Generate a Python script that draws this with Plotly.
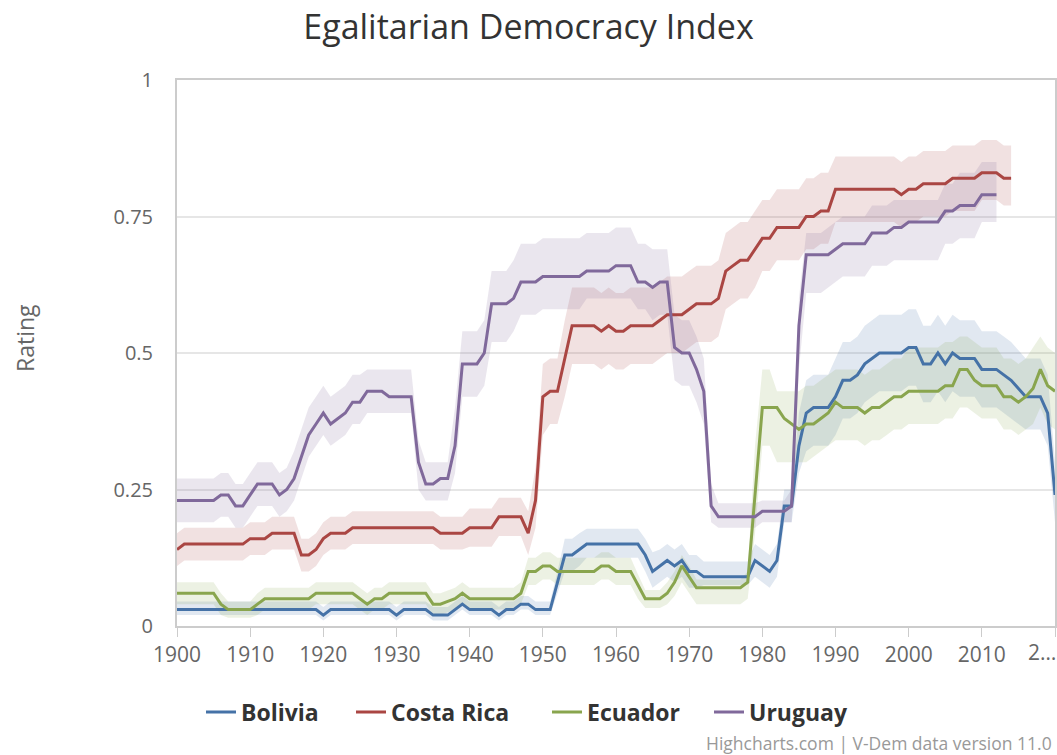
import plotly.graph_objects as go

TITLE = "Egalitarian Democracy Index"
Y_TITLE = "Rating"
CREDITS = "Highcharts.com | V-Dem data version 11.0"
SERIES_NAMES = ["Bolivia", "Costa Rica", "Ecuador", "Uruguay"]
X_TICK_VALUES = [1900, 1910, 1920, 1930, 1940, 1950, 1960, 1970, 1980, 1990, 2000, 2010, 2020]
X_TICK_LABELS = ["1900", "1910", "1920", "1930", "1940", "1950", "1960", "1970", "1980", "1990", "2000", "2010", "2…"]
Y_TICK_VALUES = [0, 0.25, 0.5, 0.75, 1]
Y_TICK_LABELS = ["0", "0.25", "0.5", "0.75", "1"]

YEARS = list(range(1900, 2021))

BOLIVIA = [
    0.03, 0.03, 0.03, 0.03, 0.03, 0.03, 0.03, 0.03, 0.03, 0.03,
    0.03, 0.03, 0.03, 0.03, 0.03, 0.03, 0.03, 0.03, 0.03, 0.03,
    0.02, 0.03, 0.03, 0.03, 0.03, 0.03, 0.03, 0.03, 0.03, 0.03,
    0.02, 0.03, 0.03, 0.03, 0.03, 0.02, 0.02, 0.02, 0.03, 0.04,
    0.03, 0.03, 0.03, 0.03, 0.02, 0.03, 0.03, 0.04, 0.04, 0.03,
    0.03, 0.03, 0.08, 0.13, 0.13, 0.14, 0.15, 0.15, 0.15, 0.15,
    0.15, 0.15, 0.15, 0.15, 0.13, 0.10, 0.11, 0.12, 0.11, 0.12,
    0.10, 0.10, 0.09, 0.09, 0.09, 0.09, 0.09, 0.09, 0.09, 0.12,
    0.11, 0.10, 0.12, 0.22, 0.22, 0.33, 0.39, 0.40, 0.40, 0.40,
    0.42, 0.45, 0.45, 0.46, 0.48, 0.49, 0.50, 0.50, 0.50, 0.50,
    0.51, 0.51, 0.48, 0.48, 0.50, 0.48, 0.50, 0.49, 0.49, 0.49,
    0.47, 0.47, 0.47, 0.46, 0.45, 0.435, 0.42, 0.42, 0.42, 0.39,
    0.24,
]
BOLIVIA_LOW = [
    0.02, 0.02, 0.02, 0.02, 0.02, 0.02, 0.02, 0.02, 0.02, 0.02,
    0.02, 0.02, 0.02, 0.02, 0.02, 0.02, 0.02, 0.02, 0.02, 0.02,
    0.01, 0.02, 0.02, 0.02, 0.02, 0.02, 0.02, 0.02, 0.02, 0.02,
    0.01, 0.02, 0.02, 0.02, 0.02, 0.01, 0.01, 0.01, 0.02, 0.03,
    0.02, 0.02, 0.02, 0.02, 0.01, 0.02, 0.02, 0.03, 0.03, 0.02,
    0.02, 0.02, 0.06, 0.10, 0.10, 0.11, 0.125, 0.125, 0.125, 0.125,
    0.125, 0.125, 0.125, 0.125, 0.10, 0.07, 0.08, 0.09, 0.08, 0.09,
    0.07, 0.07, 0.075, 0.075, 0.075, 0.075, 0.075, 0.075, 0.075, 0.09,
    0.08, 0.07, 0.09, 0.19, 0.19, 0.28, 0.32, 0.33, 0.33, 0.33,
    0.35, 0.38, 0.38, 0.39, 0.41, 0.42, 0.43, 0.43, 0.43, 0.43,
    0.44, 0.44, 0.41, 0.41, 0.43, 0.41, 0.43, 0.42, 0.42, 0.42,
    0.40, 0.40, 0.40, 0.39, 0.38, 0.37, 0.36, 0.36, 0.36, 0.33,
    0.19,
]
BOLIVIA_HIGH = [
    0.045, 0.045, 0.045, 0.045, 0.045, 0.045, 0.045, 0.045, 0.045, 0.045,
    0.045, 0.045, 0.045, 0.045, 0.045, 0.045, 0.045, 0.045, 0.045, 0.045,
    0.035, 0.045, 0.045, 0.045, 0.045, 0.045, 0.045, 0.045, 0.045, 0.045,
    0.035, 0.045, 0.045, 0.045, 0.045, 0.035, 0.035, 0.035, 0.045, 0.055,
    0.045, 0.045, 0.045, 0.045, 0.035, 0.045, 0.045, 0.055, 0.055, 0.045,
    0.045, 0.045, 0.10, 0.16, 0.16, 0.17, 0.178, 0.178, 0.178, 0.178,
    0.178, 0.178, 0.178, 0.178, 0.16, 0.135, 0.14, 0.15, 0.14, 0.15,
    0.13, 0.13, 0.118, 0.118, 0.118, 0.118, 0.118, 0.118, 0.118, 0.15,
    0.14, 0.13, 0.15, 0.25, 0.25, 0.39, 0.45, 0.46, 0.46, 0.46,
    0.49, 0.52, 0.52, 0.53, 0.55, 0.56, 0.57, 0.57, 0.57, 0.57,
    0.58, 0.58, 0.55, 0.55, 0.57, 0.55, 0.57, 0.56, 0.56, 0.56,
    0.54, 0.54, 0.54, 0.53, 0.52, 0.505, 0.49, 0.49, 0.49, 0.46,
    0.30,
]

COSTA_RICA = [
    0.14, 0.15, 0.15, 0.15, 0.15, 0.15, 0.15, 0.15, 0.15, 0.15,
    0.16, 0.16, 0.16, 0.17, 0.17, 0.17, 0.17, 0.13, 0.13, 0.14,
    0.16, 0.17, 0.17, 0.17, 0.18, 0.18, 0.18, 0.18, 0.18, 0.18,
    0.18, 0.18, 0.18, 0.18, 0.18, 0.18, 0.17, 0.17, 0.17, 0.17,
    0.18, 0.18, 0.18, 0.18, 0.20, 0.20, 0.20, 0.20, 0.17, 0.23,
    0.42, 0.43, 0.43, 0.49, 0.55, 0.55, 0.55, 0.55, 0.54, 0.55,
    0.54, 0.54, 0.55, 0.55, 0.55, 0.55, 0.56, 0.57, 0.57, 0.57,
    0.58, 0.59, 0.59, 0.59, 0.60, 0.65, 0.66, 0.67, 0.67, 0.69,
    0.71, 0.71, 0.73, 0.73, 0.73, 0.73, 0.75, 0.75, 0.76, 0.76,
    0.80, 0.80, 0.80, 0.80, 0.80, 0.80, 0.80, 0.80, 0.80, 0.79,
    0.80, 0.80, 0.81, 0.81, 0.81, 0.81, 0.82, 0.82, 0.82, 0.82,
    0.83, 0.83, 0.83, 0.82, 0.82,
]
COSTA_RICA_LOW = [
    0.11, 0.12, 0.12, 0.12, 0.12, 0.12, 0.12, 0.12, 0.12, 0.12,
    0.13, 0.13, 0.13, 0.14, 0.14, 0.14, 0.14, 0.10, 0.10, 0.11,
    0.13, 0.14, 0.14, 0.14, 0.15, 0.15, 0.15, 0.15, 0.15, 0.15,
    0.15, 0.15, 0.15, 0.15, 0.15, 0.15, 0.14, 0.14, 0.14, 0.14,
    0.145, 0.145, 0.145, 0.145, 0.165, 0.165, 0.165, 0.165, 0.13, 0.18,
    0.35, 0.37, 0.37, 0.42, 0.48, 0.48, 0.48, 0.48, 0.47, 0.48,
    0.47, 0.47, 0.48, 0.48, 0.48, 0.48, 0.49, 0.50, 0.50, 0.50,
    0.51, 0.52, 0.52, 0.52, 0.53, 0.58, 0.59, 0.60, 0.60, 0.62,
    0.65, 0.65, 0.67, 0.67, 0.67, 0.67, 0.69, 0.69, 0.70, 0.70,
    0.74, 0.74, 0.74, 0.74, 0.74, 0.74, 0.74, 0.74, 0.74, 0.73,
    0.74, 0.74, 0.75, 0.75, 0.75, 0.75, 0.76, 0.76, 0.76, 0.76,
    0.78, 0.78, 0.78, 0.77, 0.77,
]
COSTA_RICA_HIGH = [
    0.17, 0.18, 0.18, 0.18, 0.18, 0.18, 0.18, 0.18, 0.18, 0.18,
    0.19, 0.19, 0.19, 0.20, 0.20, 0.20, 0.20, 0.16, 0.16, 0.17,
    0.19, 0.20, 0.20, 0.20, 0.21, 0.21, 0.21, 0.21, 0.21, 0.21,
    0.21, 0.21, 0.21, 0.21, 0.21, 0.21, 0.20, 0.20, 0.20, 0.20,
    0.215, 0.215, 0.215, 0.215, 0.235, 0.235, 0.235, 0.235, 0.21, 0.29,
    0.48, 0.49, 0.49, 0.56, 0.62, 0.62, 0.62, 0.62, 0.61, 0.62,
    0.61, 0.61, 0.62, 0.62, 0.62, 0.62, 0.63, 0.64, 0.64, 0.64,
    0.65, 0.66, 0.66, 0.66, 0.67, 0.72, 0.73, 0.74, 0.74, 0.76,
    0.78, 0.78, 0.80, 0.80, 0.80, 0.80, 0.82, 0.82, 0.83, 0.83,
    0.86, 0.86, 0.86, 0.86, 0.86, 0.86, 0.86, 0.86, 0.86, 0.85,
    0.86, 0.86, 0.87, 0.87, 0.87, 0.87, 0.88, 0.88, 0.88, 0.88,
    0.89, 0.89, 0.89, 0.88, 0.88,
]

ECUADOR = [
    0.06, 0.06, 0.06, 0.06, 0.06, 0.06, 0.04, 0.03, 0.03, 0.03,
    0.03, 0.04, 0.05, 0.05, 0.05, 0.05, 0.05, 0.05, 0.05, 0.06,
    0.06, 0.06, 0.06, 0.06, 0.06, 0.05, 0.04, 0.05, 0.05, 0.06,
    0.06, 0.06, 0.06, 0.06, 0.06, 0.04, 0.04, 0.045, 0.05, 0.06,
    0.05, 0.05, 0.05, 0.05, 0.05, 0.05, 0.05, 0.06, 0.10, 0.10,
    0.11, 0.11, 0.10, 0.10, 0.10, 0.10, 0.10, 0.10, 0.11, 0.11,
    0.10, 0.10, 0.10, 0.075, 0.05, 0.05, 0.05, 0.06, 0.08, 0.11,
    0.09, 0.07, 0.07, 0.07, 0.07, 0.07, 0.07, 0.07, 0.08, 0.24,
    0.40, 0.40, 0.40, 0.38, 0.37, 0.36, 0.37, 0.37, 0.38, 0.39,
    0.41, 0.40, 0.40, 0.40, 0.39, 0.40, 0.40, 0.41, 0.42, 0.42,
    0.43, 0.43, 0.43, 0.43, 0.43, 0.44, 0.44, 0.47, 0.47, 0.45,
    0.44, 0.44, 0.44, 0.42, 0.42, 0.41, 0.42, 0.435, 0.47, 0.44,
    0.43,
]
ECUADOR_LOW = [
    0.04, 0.04, 0.04, 0.04, 0.04, 0.04, 0.02, 0.015, 0.015, 0.015,
    0.015, 0.02, 0.03, 0.03, 0.03, 0.03, 0.03, 0.03, 0.03, 0.04,
    0.04, 0.04, 0.04, 0.04, 0.04, 0.03, 0.02, 0.03, 0.03, 0.04,
    0.04, 0.04, 0.04, 0.04, 0.04, 0.02, 0.02, 0.025, 0.03, 0.04,
    0.03, 0.03, 0.03, 0.03, 0.03, 0.03, 0.03, 0.04, 0.075, 0.075,
    0.085, 0.085, 0.075, 0.075, 0.075, 0.075, 0.075, 0.075, 0.085, 0.085,
    0.075, 0.075, 0.075, 0.05, 0.033, 0.033, 0.033, 0.04, 0.055, 0.08,
    0.06, 0.04, 0.04, 0.04, 0.04, 0.04, 0.04, 0.04, 0.05, 0.17,
    0.33, 0.33, 0.30, 0.30, 0.30, 0.30, 0.30, 0.31, 0.32, 0.33,
    0.34, 0.34, 0.34, 0.34, 0.33, 0.34, 0.34, 0.35, 0.36, 0.36,
    0.37, 0.37, 0.37, 0.37, 0.37, 0.38, 0.38, 0.40, 0.40, 0.39,
    0.38, 0.38, 0.38, 0.36, 0.36, 0.35, 0.36, 0.37, 0.40, 0.37,
    0.36,
]
ECUADOR_HIGH = [
    0.08, 0.08, 0.08, 0.08, 0.08, 0.08, 0.06, 0.045, 0.045, 0.045,
    0.045, 0.06, 0.07, 0.07, 0.07, 0.07, 0.07, 0.07, 0.07, 0.08,
    0.08, 0.08, 0.08, 0.08, 0.08, 0.07, 0.06, 0.07, 0.07, 0.08,
    0.08, 0.08, 0.08, 0.08, 0.08, 0.06, 0.06, 0.065, 0.07, 0.08,
    0.07, 0.07, 0.07, 0.07, 0.07, 0.07, 0.07, 0.08, 0.125, 0.125,
    0.135, 0.135, 0.125, 0.125, 0.125, 0.125, 0.125, 0.125, 0.135, 0.135,
    0.125, 0.125, 0.125, 0.095, 0.066, 0.066, 0.066, 0.08, 0.10, 0.13,
    0.11, 0.085, 0.085, 0.085, 0.085, 0.085, 0.085, 0.085, 0.10, 0.33,
    0.47, 0.47, 0.43, 0.43, 0.43, 0.43, 0.44, 0.44, 0.45, 0.46,
    0.47, 0.47, 0.47, 0.47, 0.46, 0.47, 0.47, 0.48, 0.49, 0.49,
    0.51, 0.51, 0.51, 0.51, 0.51, 0.52, 0.52, 0.53, 0.53, 0.52,
    0.51, 0.51, 0.51, 0.49, 0.49, 0.48, 0.49, 0.51, 0.53, 0.51,
    0.50,
]

URUGUAY = [
    0.23, 0.23, 0.23, 0.23, 0.23, 0.23, 0.24, 0.24, 0.22, 0.22,
    0.24, 0.26, 0.26, 0.26, 0.24, 0.25, 0.27, 0.31, 0.35, 0.37,
    0.39, 0.37, 0.38, 0.39, 0.41, 0.41, 0.43, 0.43, 0.43, 0.42,
    0.42, 0.42, 0.42, 0.30, 0.26, 0.26, 0.27, 0.27, 0.33, 0.48,
    0.48, 0.48, 0.50, 0.59, 0.59, 0.59, 0.60, 0.63, 0.63, 0.63,
    0.64, 0.64, 0.64, 0.64, 0.64, 0.64, 0.65, 0.65, 0.65, 0.65,
    0.66, 0.66, 0.66, 0.63, 0.63, 0.62, 0.63, 0.63, 0.51, 0.50,
    0.50, 0.47, 0.43, 0.22, 0.20, 0.20, 0.20, 0.20, 0.20, 0.20,
    0.21, 0.21, 0.21, 0.21, 0.22, 0.55, 0.68, 0.68, 0.68, 0.68,
    0.69, 0.70, 0.70, 0.70, 0.70, 0.72, 0.72, 0.72, 0.73, 0.73,
    0.74, 0.74, 0.74, 0.74, 0.74, 0.76, 0.76, 0.77, 0.77, 0.77,
    0.79, 0.79, 0.79,
]
URUGUAY_LOW = [
    0.19, 0.19, 0.19, 0.19, 0.19, 0.19, 0.20, 0.20, 0.18, 0.18,
    0.20, 0.22, 0.22, 0.22, 0.20, 0.21, 0.23, 0.27, 0.31, 0.33,
    0.35, 0.33, 0.34, 0.35, 0.37, 0.37, 0.39, 0.39, 0.39, 0.39,
    0.39, 0.39, 0.39, 0.25, 0.23, 0.23, 0.23, 0.23, 0.28, 0.42,
    0.42, 0.42, 0.44, 0.52, 0.52, 0.52, 0.54, 0.57, 0.57, 0.57,
    0.58, 0.58, 0.58, 0.58, 0.58, 0.58, 0.60, 0.60, 0.60, 0.60,
    0.60, 0.60, 0.60, 0.58, 0.58, 0.56, 0.57, 0.57, 0.45, 0.44,
    0.44, 0.41, 0.37, 0.19, 0.18, 0.18, 0.18, 0.18, 0.18, 0.18,
    0.19, 0.19, 0.19, 0.19, 0.19, 0.47, 0.61, 0.61, 0.61, 0.62,
    0.63, 0.64, 0.64, 0.64, 0.64, 0.66, 0.66, 0.66, 0.67, 0.67,
    0.67, 0.67, 0.67, 0.67, 0.67, 0.70, 0.70, 0.71, 0.71, 0.71,
    0.74, 0.74, 0.74,
]
URUGUAY_HIGH = [
    0.27, 0.27, 0.27, 0.27, 0.27, 0.27, 0.28, 0.28, 0.26, 0.26,
    0.28, 0.30, 0.30, 0.30, 0.28, 0.29, 0.32, 0.36, 0.40, 0.42,
    0.44, 0.42, 0.43, 0.44, 0.46, 0.46, 0.47, 0.47, 0.47, 0.47,
    0.47, 0.47, 0.47, 0.34, 0.30, 0.30, 0.30, 0.30, 0.40, 0.54,
    0.54, 0.54, 0.56, 0.65, 0.65, 0.65, 0.67, 0.70, 0.70, 0.70,
    0.71, 0.71, 0.71, 0.71, 0.71, 0.71, 0.72, 0.72, 0.72, 0.72,
    0.73, 0.73, 0.73, 0.70, 0.70, 0.69, 0.69, 0.69, 0.57, 0.56,
    0.56, 0.53, 0.49, 0.26, 0.225, 0.225, 0.225, 0.225, 0.225, 0.225,
    0.23, 0.23, 0.23, 0.23, 0.25, 0.60, 0.72, 0.72, 0.72, 0.73,
    0.74, 0.75, 0.75, 0.75, 0.75, 0.77, 0.77, 0.77, 0.78, 0.78,
    0.78, 0.78, 0.78, 0.78, 0.78, 0.81, 0.81, 0.83, 0.83, 0.83,
    0.85, 0.85, 0.85,
]

LINE_COLORS = ["#4572A7", "#AA4643", "#89A54E", "#80699B"]
BAND_COLORS = ["rgba(69,114,167,0.16)", "rgba(170,70,67,0.16)",
               "rgba(137,165,78,0.16)", "rgba(128,105,155,0.17)"]
# left edge (page px) of each legend entry's line symbol
LEGEND_SYMBOL_X = [207, 357, 553, 715]

series = [
    (BOLIVIA, BOLIVIA_LOW, BOLIVIA_HIGH),
    (COSTA_RICA, COSTA_RICA_LOW, COSTA_RICA_HIGH),
    (ECUADOR, ECUADOR_LOW, ECUADOR_HIGH),
    (URUGUAY, URUGUAY_LOW, URUGUAY_HIGH),
]

PLOT_L, PLOT_R, PLOT_T, PLOT_B = 177, 1055, 80, 626
W, H = 1057, 755
PW, PH = PLOT_R - PLOT_L, PLOT_B - PLOT_T

fig = go.Figure()

# confidence bands
for (vals, lo, hi), bcol in zip(series, BAND_COLORS):
    yrs = YEARS[:len(vals)]
    fig.add_trace(go.Scatter(
        x=yrs + yrs[::-1], y=hi + lo[::-1], fill="toself", fillcolor=bcol,
        line=dict(width=0), mode="lines", hoverinfo="skip", showlegend=False))

legend_ids = ["legend", "legend2", "legend3", "legend4"]

# main lines
for name, (vals, lo, hi), lcol, lid in zip(SERIES_NAMES, series, LINE_COLORS, legend_ids):
    yrs = YEARS[:len(vals)]
    fig.add_trace(go.Scatter(
        x=yrs, y=vals, name=name, mode="lines", legend=lid,
        line=dict(color=lcol, width=3)))

legend_style = dict(orientation="h", xanchor="left", yanchor="middle",
                    y=(PLOT_B - 712) / PH,
                    font=dict(size=23, color="#333333", weight="bold"),
                    bgcolor="rgba(0,0,0,0)", itemwidth=30)

layout_legends = {}
for lid, sx in zip(legend_ids, LEGEND_SYMBOL_X):
    layout_legends[lid] = dict(legend_style, x=(sx - 6 - PLOT_L) / PW)

fig.update_layout(
    width=W, height=H,
    margin=dict(l=PLOT_L, r=W - PLOT_R, t=PLOT_T, b=H - PLOT_B, autoexpand=False),
    paper_bgcolor="white", plot_bgcolor="white",
    font=dict(family="Open Sans, sans-serif", color="#666666"),
    title=dict(text=TITLE, x=0.5, xref="container", xanchor="center",
               y=1 - 27 / H, yref="container", yanchor="middle",
               font=dict(size=34, color="#333333")),
    xaxis=dict(range=[1900, 2020], tickvals=X_TICK_VALUES,
               ticktext=X_TICK_LABELS[:-1] + [""],
               ticks="outside", ticklen=9, tickcolor="#cccccc", tickwidth=1,
               showgrid=False, zeroline=False,
               showline=True, linecolor="#cccccc", linewidth=2, mirror=True,
               tickfont=dict(size=21, color="#666666")),
    yaxis=dict(range=[0, 1], tickvals=Y_TICK_VALUES, ticktext=Y_TICK_LABELS,
               showgrid=True, gridcolor="#e6e6e6", gridwidth=2, zeroline=False,
               showline=True, linecolor="#cccccc", linewidth=2, mirror=True,
               ticks="", ticklabelstandoff=18,
               tickfont=dict(size=20, color="#666666")),
    showlegend=True,
    **layout_legends,
)

fig.add_annotation(text=Y_TITLE, xref="paper", yref="paper",
                   x=(25 - PLOT_L) / PW, y=(PLOT_B - 338) / PH, textangle=-90,
                   showarrow=False, xanchor="center", yanchor="middle",
                   font=dict(size=23, color="#666666"))
fig.add_annotation(text=X_TICK_LABELS[-1], xref="paper", yref="paper",
                   x=(1058 - PLOT_L) / PW, xanchor="right",
                   y=(PLOT_B - 652) / PH, yanchor="middle",
                   showarrow=False, font=dict(size=21, color="#666666"))
fig.add_annotation(text=CREDITS, xref="paper", yref="paper",
                   x=(1054 - PLOT_L) / PW, xanchor="right",
                   y=(PLOT_B - 743) / PH, yanchor="middle",
                   showarrow=False, font=dict(size=17.5, color="#999999"))

fig.write_html("out.html")
